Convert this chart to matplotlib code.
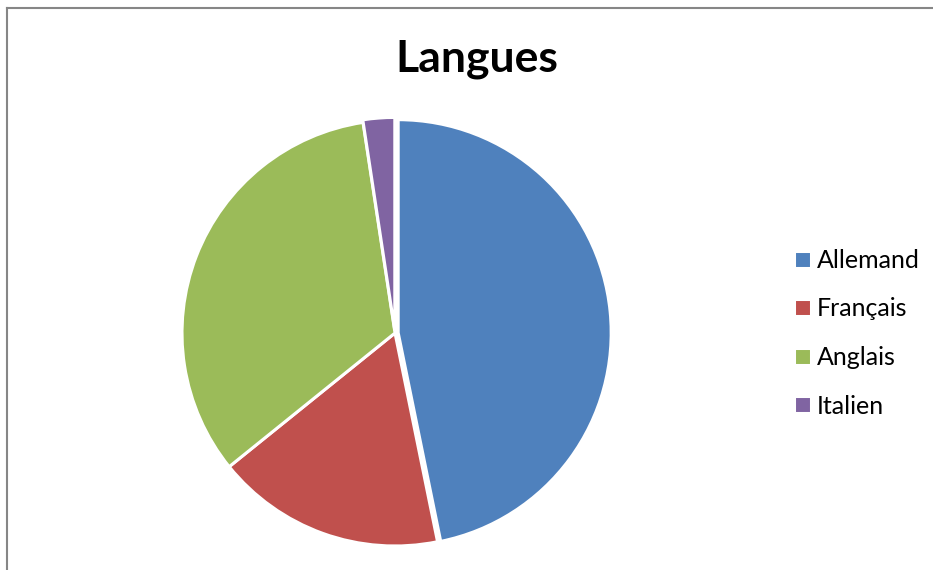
import matplotlib
matplotlib.use("Agg")
import matplotlib.pyplot as plt
from matplotlib.lines import Line2D

labels = ["Allemand", "Français", "Anglais", "Italien"]
values = [46.8, 17.4, 33.4, 2.4]
colors = ["#4F81BD", "#C0504D", "#9BBB59", "#8064A2"]
explode = [0.015, 0, 0, 0.012]

W, H = 933, 570
fig = plt.figure(figsize=(W / 100, H / 100), dpi=100)
plt.rcParams['font.family'] = ['Lato', 'DejaVu Sans']

cx, cy, r = 395, 333, 213
ax = fig.add_axes([(cx - r) / W, (H - cy - r) / H, 2 * r / W, 2 * r / H])
wedges, _ = ax.pie(values, colors=colors, startangle=90, counterclock=False,
                   explode=explode,
                   wedgeprops=dict(edgecolor="white", linewidth=2.2))
ax.set_xlim(-1, 1)
ax.set_ylim(-1, 1)
ax.set_aspect("equal")
ax.axis("off")

fig.text(477 / W, 1 - 59 / H, "Langues", ha="center", va="center",
         fontsize=32, fontweight="bold", color="black")

leg = fig.legend(wedges, labels, loc="upper left",
                 bbox_to_anchor=(794 / W, 1 - 249 / H),
                 frameon=False, fontsize=18, handlelength=0.68,
                 handleheight=0.68, handletextpad=0.22, labelspacing=1.02,
                 borderaxespad=0, borderpad=0)

fig.add_artist(Line2D([6.5 / W, 1], [1 - 7.5 / H, 1 - 7.5 / H], color="#868686", lw=1.5))
fig.add_artist(Line2D([6.5 / W, 6.5 / W], [0, 1 - 7.5 / H], color="#868686", lw=1.5))

fig.savefig("out.png", dpi=100, facecolor="white")
